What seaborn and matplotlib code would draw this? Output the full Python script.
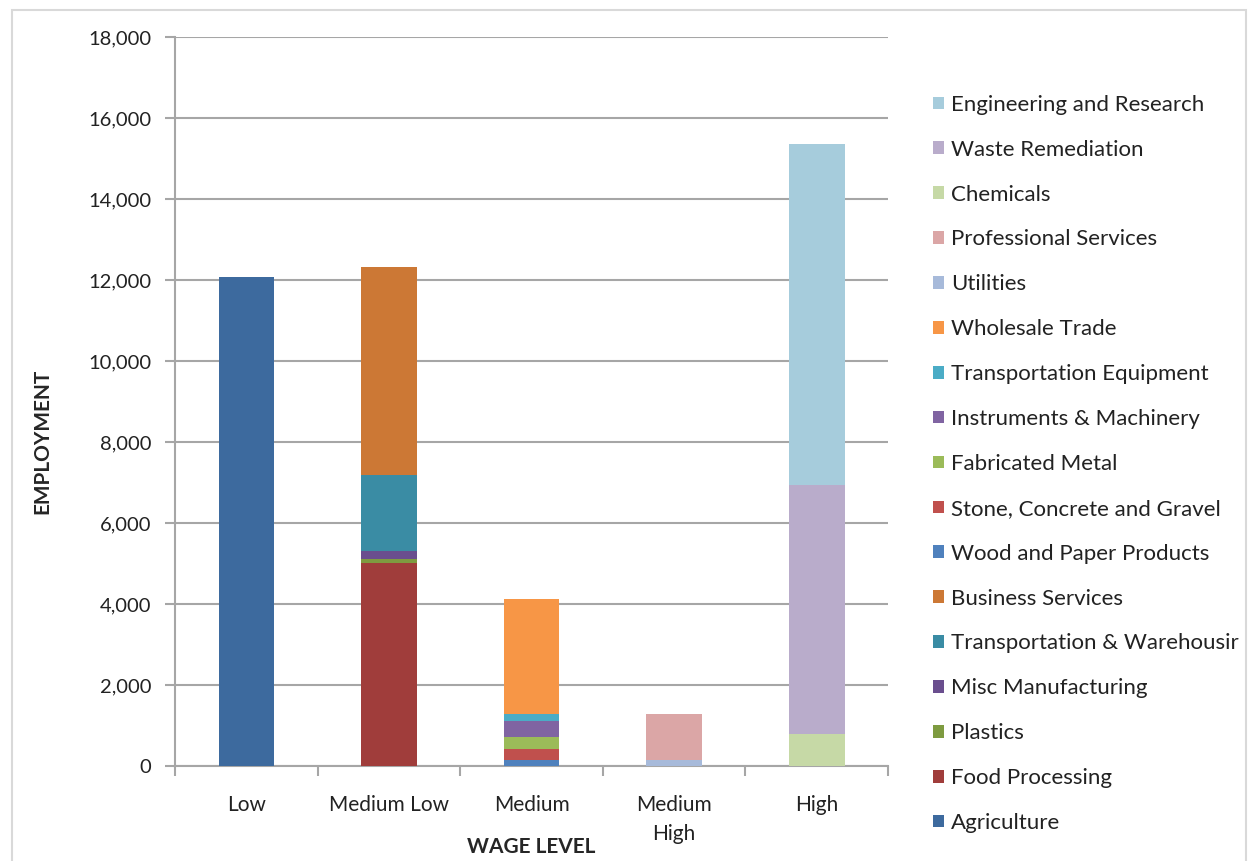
import numpy as np
import pandas as pd
import matplotlib.pyplot as plt
import seaborn as sns
from matplotlib.patches import Patch, Rectangle
from matplotlib.ticker import FuncFormatter, FixedLocator


wage_levels = ["Low", "Medium Low", "Medium", "Medium\nHigh", "High"]

# employment by industry, one value per wage level
agriculture = [12080, 0, 0, 0, 0]
food_processing = [0, 5010, 0, 0, 0]
plastics = [0, 100, 0, 0, 0]
misc_manufacturing = [0, 200, 0, 0, 0]
transport_warehousing = [0, 1875, 0, 0, 0]
business_services = [0, 5130, 0, 0, 0]
wood_paper = [0, 0, 160, 0, 0]
stone_concrete = [0, 0, 250, 0, 0]
fabricated_metal = [0, 0, 300, 0, 0]
instruments_machinery = [0, 0, 400, 0, 0]
transport_equipment = [0, 0, 170, 0, 0]
wholesale_trade = [0, 0, 2850, 0, 0]
utilities = [0, 0, 0, 160, 0]
professional_services = [0, 0, 0, 1120, 0]
chemicals = [0, 0, 0, 0, 780]
waste_remediation = [0, 0, 0, 0, 6160]
engineering_research = [0, 0, 0, 0, 8420]

series = [
	("Agriculture", agriculture, "#3D6A9E"),
	("Food Processing", food_processing, "#A03D3B"),
	("Plastics", plastics, "#7E9B40"),
	("Misc Manufacturing", misc_manufacturing, "#6A4E8E"),
	("Transportation & Warehousir", transport_warehousing, "#3A8CA4"),
	("Business Services", business_services, "#CC7835"),
	("Wood and Paper Products", wood_paper, "#4F81BD"),
	("Stone, Concrete and Gravel", stone_concrete, "#C0504D"),
	("Fabricated Metal", fabricated_metal, "#9BBB59"),
	("Instruments & Machinery", instruments_machinery, "#8064A2"),
	("Transportation Equipment", transport_equipment, "#4BACC6"),
	("Wholesale Trade", wholesale_trade, "#F79646"),
	("Utilities", utilities, "#A7BADA"),
	("Professional Services", professional_services, "#DBA6A6"),
	("Chemicals", chemicals, "#C6D9A6"),
	("Waste Remediation", waste_remediation, "#B9ACCB"),
	("Engineering and Research", engineering_research, "#A6CCDC"),
]

sns.set_style("white")
plt.rcParams["font.family"] = ["Lato", "DejaVu Sans"]

fig = plt.figure(figsize=(12.53, 8.61), dpi=100)
ax = fig.add_axes([0.1397, 0.1103, 0.569, 0.8467])

grey = "#A6A6A6"
bottom = np.zeros(len(wage_levels))
for name, values, color in series:
	df = pd.DataFrame({"level": wage_levels, "employment": values})
	sns.barplot(data=df, x="level", y="employment", color=color, width=0.39,
	            bottom=bottom, errorbar=None, ax=ax, saturation=1,
	            linewidth=0, zorder=3)
	bottom = bottom + np.array(values)

ax.set_ylim(0, 18000)
ax.set_xlim(-0.5, 4.5)
ax.set_yticks(np.arange(0, 18001, 2000))
ax.yaxis.set_major_formatter(FuncFormatter(lambda v, p: f"{int(v):,}"))
ax.grid(axis="y", color=grey, linewidth=1.5, zorder=0)
ax.set_axisbelow(True)

for s in ["top", "right"]:
	ax.spines[s].set_visible(False)
for s in ["left", "bottom"]:
	ax.spines[s].set_color(grey)
	ax.spines[s].set_linewidth(1.5)

ax.tick_params(axis="y", length=7, width=1.5, color=grey, labelsize=14.5,
               labelcolor="#222222", pad=10, left=True)
ax.tick_params(axis="x", which="major", length=0, labelsize=15,
               labelcolor="#222222", pad=21)
for t in ax.get_xticklabels():
	t.set_linespacing(1.55)
ax.xaxis.set_minor_locator(FixedLocator(np.arange(-0.5, 4.6, 1)))
ax.tick_params(axis="x", which="minor", length=7, width=1.5, color=grey,
               direction="out", bottom=True)

ax.set_xlabel("WAGE LEVEL", fontsize=15, fontweight="bold")
ax.set_ylabel("EMPLOYMENT", fontsize=15, fontweight="bold")
ax.xaxis.set_label_coords(0.5, -0.097)
ax.yaxis.set_label_coords(-0.172, 0.445)

handles = [Patch(facecolor=c, edgecolor="none") for _, _, c in series][::-1]
labels = [n for n, _, _ in series][::-1]
leg = ax.legend(handles, labels, loc="upper left", bbox_to_anchor=(1.05, 0.933),
                frameon=False, fontsize=16, handlelength=0.5, handleheight=0.5,
                handletextpad=0.35, labelspacing=1.12, borderaxespad=0)
for t in leg.get_texts():
	t.set_color("#222222")

fig.patches.append(Rectangle((0.0096, -0.01), 0.985, 0.998, transform=fig.transFigure,
                             fill=False, edgecolor="#D9D9D9", linewidth=1.5))

fig.savefig("out.png", dpi=100)
